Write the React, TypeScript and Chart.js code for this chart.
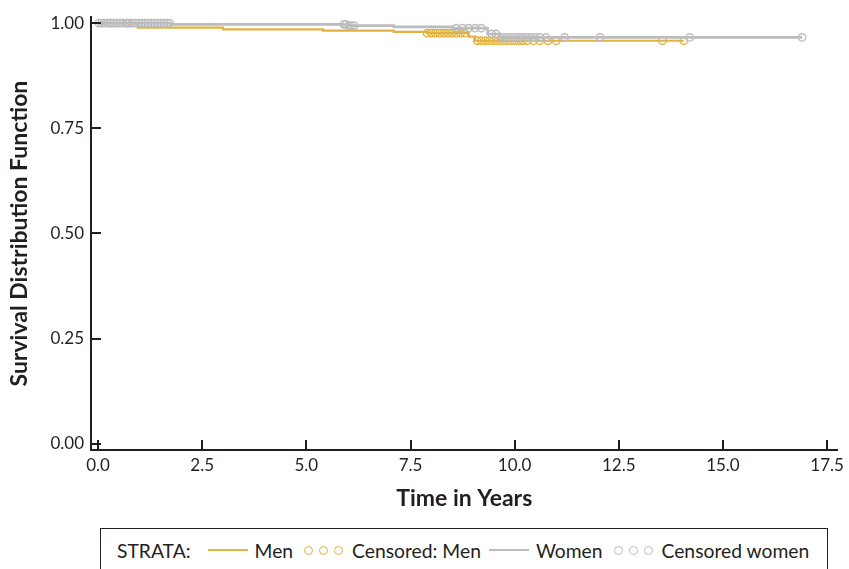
import React, { useEffect, useRef } from 'react';
import { Chart, registerables } from 'chart.js';

Chart.register(...registerables);

const GOLD = '#E2B23E';
const GREY = '#BCBCBE';
const AXIS = '#231F20';
const FONT = 'Lato, "Noto Sans", sans-serif';

// Kaplan-Meier step curves (time in years, survival)
const menTimes = [0, 0.95, 3.0, 5.4, 7.1, 7.9, 8.9, 9.05, 14.06];
const menSurv = [1.0, 0.989, 0.985, 0.982, 0.979, 0.976, 0.968, 0.958, 0.958];
const womenTimes = [0, 1.75, 6.0, 7.1, 8.5, 9.35, 9.65, 16.9];
const womenSurv = [1.0, 0.997, 0.994, 0.991, 0.988, 0.974, 0.966, 0.966];

// Censoring times
const menCensored = [
  0.3, 0.7, 7.9, 8.0, 8.1, 8.2, 8.3, 8.4, 8.5, 8.6, 8.7, 8.8, 9.1, 9.2, 9.3, 9.4, 9.5,
  9.6, 9.7, 9.8, 9.9, 10.0, 10.1, 10.2, 10.3, 10.45, 10.6, 10.8, 11.0, 13.55, 14.06,
];
const womenCensored = [
  0.02, 0.08, 0.15, 0.22, 0.3, 0.38, 0.45, 0.52, 0.6, 0.68, 0.75, 0.82, 0.9, 0.98, 1.05,
  1.12, 1.2, 1.28, 1.35, 1.42, 1.5, 1.58, 1.65, 1.72, 5.9, 5.95, 6.02, 6.08, 6.15, 8.6,
  8.75, 8.9, 9.05, 9.2, 9.45, 9.55, 9.7, 9.8, 9.9, 10.0, 10.1, 10.2, 10.3, 10.4, 10.5,
  10.6, 10.75, 11.2, 12.05, 14.2, 16.9,
];

const xTickValues = [0, 2.5, 5, 7.5, 10, 12.5, 15, 17.5];
const yTickValues = [0, 0.25, 0.5, 0.75, 1];
const xTitle = 'Time in Years';
const yTitle = 'Survival Distribution Function';
const legendTitle = 'STRATA:';
const legendLabels = ['Men', 'Censored: Men', 'Women', 'Censored women'];

function survAt(times: number[], surv: number[], t: number): number {
  let v = surv[0];
  for (let i = 0; i < times.length; i++) {
    if (times[i] <= t) v = surv[i];
  }
  return v;
}

const curve = (times: number[], surv: number[]) => times.map((t, i) => ({ x: t, y: surv[i] }));
const marks = (cens: number[], times: number[], surv: number[]) =>
  cens.map((t) => ({ x: t, y: survAt(times, surv, t) }));

const innerTicks = {
  id: 'innerTicks',
  afterDraw(chart: any) {
    const { ctx, chartArea, scales } = chart;
    ctx.save();
    ctx.strokeStyle = AXIS;
    ctx.lineWidth = 2;
    ctx.beginPath();
    xTickValues.forEach((v) => {
      const px = Math.round(scales.x.getPixelForValue(v));
      ctx.moveTo(px, chartArea.bottom);
      ctx.lineTo(px, chartArea.bottom - 10);
    });
    yTickValues.forEach((v) => {
      const py = Math.round(scales.y.getPixelForValue(v));
      ctx.moveTo(chartArea.left, py);
      ctx.lineTo(chartArea.left + 10, py);
    });
    ctx.stroke();
    ctx.restore();
  },
};

export default function App() {
  const ref = useRef<HTMLCanvasElement>(null);

  useEffect(() => {
    const chart = new Chart(ref.current!, {
      type: 'scatter',
      data: {
        datasets: [
          {
            label: legendLabels[2],
            data: curve(womenTimes, womenSurv),
            showLine: true,
            stepped: true,
            borderColor: GREY,
            borderWidth: 2.6,
            pointRadius: 0,
          },
          {
            label: legendLabels[3],
            data: marks(womenCensored, womenTimes, womenSurv),
            showLine: false,
            pointStyle: 'circle',
            pointRadius: 3.7,
            borderColor: GREY,
            backgroundColor: 'rgba(0,0,0,0)',
            borderWidth: 1.4,
          },
          {
            label: legendLabels[0],
            data: curve(menTimes, menSurv),
            showLine: true,
            stepped: true,
            borderColor: GOLD,
            borderWidth: 2.2,
            pointRadius: 0,
          },
          {
            label: legendLabels[1],
            data: marks(menCensored, menTimes, menSurv),
            showLine: false,
            pointStyle: 'circle',
            pointRadius: 3.7,
            borderColor: GOLD,
            backgroundColor: 'rgba(0,0,0,0)',
            borderWidth: 1.4,
          },
        ],
      } as any,
      options: {
        responsive: false,
        animation: false,
        layout: { padding: { left: 0, top: 17, right: 9, bottom: 0 } },
        plugins: { legend: { display: false }, tooltip: { enabled: false } },
        scales: {
          x: {
            type: 'linear',
            min: -0.17,
            max: 17.75,
            afterBuildTicks: (s: any) => {
              s.ticks = xTickValues.map((v) => ({ value: v }));
            },
            afterFit: (s: any) => {
              s.height = 70;
            },
            ticks: {
              callback: (v: any) => Number(v).toFixed(1),
              color: '#231F20',
              font: { family: FONT, size: 17 },
              padding: 5,
              maxRotation: 0,
            },
            grid: { display: false, drawTicks: false },
            border: { display: true, color: AXIS, width: 2 },
            title: {
              display: true,
              text: xTitle,
              color: '#231F20',
              font: { family: FONT, size: 23, weight: 'bold' },
              padding: { top: 0, bottom: 8 },
            },
          },
          y: {
            type: 'linear',
            min: -0.015,
            max: 1.014,
            afterBuildTicks: (s: any) => {
              s.ticks = yTickValues.map((v) => ({ value: v }));
            },
            afterFit: (s: any) => {
              s.width = 91;
            },
            ticks: {
              callback: (v: any) => Number(v).toFixed(2),
              color: '#231F20',
              font: { family: FONT, size: 17 },
              padding: 7,
            },
            grid: { display: false, drawTicks: false },
            border: { display: true, color: AXIS, width: 2 },
            title: {
              display: true,
              text: yTitle,
              color: '#231F20',
              font: { family: FONT, size: 23, weight: 'bold' },
              padding: { top: 6, bottom: 0 },
            },
          },
        },
      } as any,
      plugins: [innerTicks],
    });
    return () => chart.destroy();
  }, []);

  const lineSample = (color: string): React.CSSProperties => ({
    width: 40,
    height: 2,
    background: color,
    flex: '0 0 auto',
  });
  const circle = (color: string): React.CSSProperties => ({
    width: 9,
    height: 9,
    boxSizing: 'border-box',
    border: `1.4px solid ${color}`,
    borderRadius: '50%',
    flex: '0 0 auto',
  });
  const circles = (color: string) => (
    <div style={{ display: 'flex', gap: 6, marginLeft: 11, marginRight: 9 }}>
      <div style={circle(color)} />
      <div style={circle(color)} />
      <div style={circle(color)} />
    </div>
  );

  return (
    <div
      style={{
        position: 'absolute',
        left: 0,
        top: 0,
        width: 849,
        height: 569,
        overflow: 'hidden',
        background: '#fff',
        fontFamily: FONT,
      }}
    >
      <canvas ref={ref} width={849} height={520} style={{ position: 'absolute', left: 0, top: 0 }} />
      <div
        style={{
          position: 'absolute',
          left: 100,
          top: 528,
          width: 728,
          height: 60,
          boxSizing: 'border-box',
          border: '1px solid #231F20',
          fontSize: 19.3,
          color: '#231F20',
        }}
      >
        <div
          style={{
            position: 'absolute',
            left: 16,
            top: 0,
            height: 42,
            display: 'flex',
            alignItems: 'center',
            whiteSpace: 'nowrap',
          }}
        >
          <span style={{ marginRight: 17 }}>{legendTitle}</span>
          <div style={lineSample(GOLD)} />
          <span style={{ marginLeft: 7 }}>{legendLabels[0]}</span>
          {circles(GOLD)}
          <span style={{ marginRight: 8 }}>{legendLabels[1]}</span>
          <div style={lineSample(GREY)} />
          <span style={{ marginLeft: 7 }}>{legendLabels[2]}</span>
          {circles(GREY)}
          <span>{legendLabels[3]}</span>
        </div>
      </div>
    </div>
  );
}
